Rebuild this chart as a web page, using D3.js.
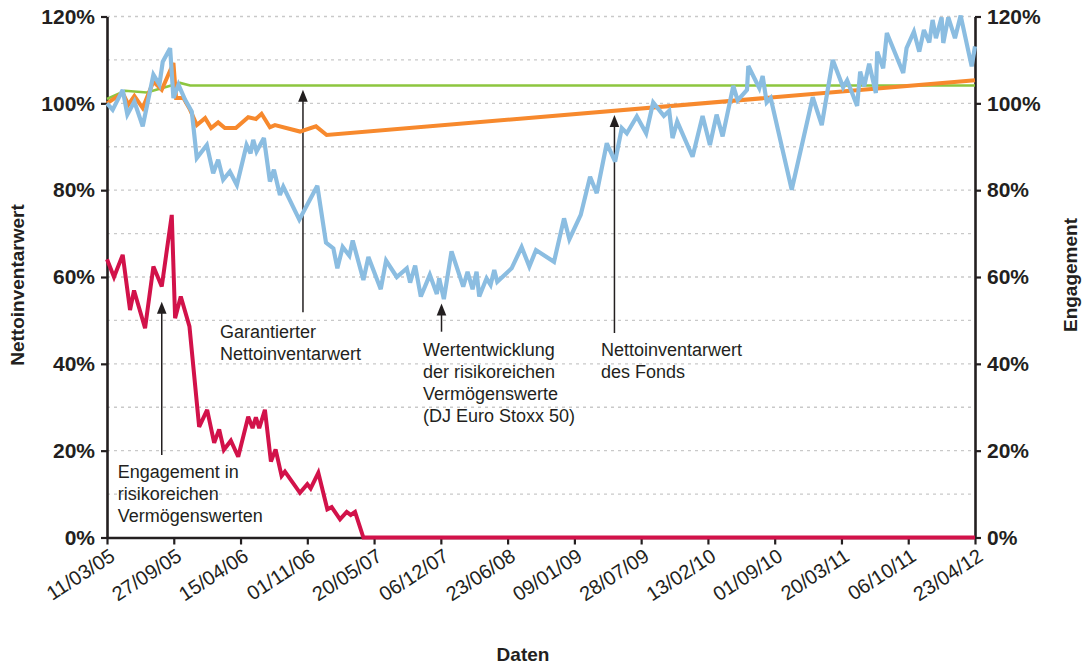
<!DOCTYPE html>
<html><head><meta charset="utf-8">
<script src="https://cdn.jsdelivr.net/npm/d3@7"></script>
<style>
body{margin:0;background:#fff}
svg{display:block}
text{font-family:"Liberation Sans",Arial,sans-serif;fill:#231f20}
</style>
</head><body>
<svg id="chart" width="1085" height="665"></svg>
<script>
// ---------- data ----------
const tickDates = ["11/03/05","27/09/05","15/04/06","01/11/06","20/05/07","06/12/07","23/06/08","09/01/09","28/07/09","13/02/10","01/09/10","20/03/11","06/10/11","23/04/12"];
const yTicks = [0,20,40,60,80,100,120];
const gridValues = [10,20,30,40,50,60,70,80,90,100,110,120];

// Wertentwicklung der risikoreichen Vermögenswerte (DJ Euro Stoxx 50)
const stoxxDates = ["2005-03-11","2005-03-28","2005-04-27","2005-05-11","2005-06-01","2005-06-26","2005-07-28","2005-08-15","2005-08-25","2005-09-16","2005-09-26","2005-10-11","2005-10-31","2005-11-20","2005-12-05","2006-01-04","2006-01-23","2006-02-07","2006-02-22","2006-03-14","2006-04-04","2006-05-03","2006-05-15","2006-05-23","2006-06-02","2006-06-24","2006-07-12","2006-07-24","2006-08-11","2006-08-21","2006-10-08","2006-12-01","2006-12-27","2007-01-18","2007-01-30","2007-02-15","2007-03-07","2007-03-17","2007-04-18","2007-05-03","2007-06-09","2007-06-25","2007-07-27","2007-08-26","2007-09-05","2007-09-20","2007-10-07","2007-11-03","2007-11-24","2007-12-01","2007-12-15","2008-01-07","2008-02-11","2008-02-24","2008-03-10","2008-03-22","2008-03-30","2008-04-21","2008-05-03","2008-05-14","2008-05-23","2008-07-05","2008-08-04","2008-08-27","2008-09-16","2008-11-09","2008-12-09","2008-12-25","2009-01-28","2009-02-25","2009-03-17","2009-04-16","2009-05-11","2009-05-31","2009-06-15","2009-07-15","2009-08-12","2009-09-02","2009-10-04","2009-10-20","2009-10-30","2009-11-13","2009-12-29","2010-01-28","2010-02-19","2010-03-11","2010-03-29","2010-04-30","2010-05-13","2010-06-10","2010-06-14","2010-07-17","2010-07-27","2010-08-08","2010-08-20","2010-10-22","2010-12-24","2011-01-20","2011-02-22","2011-03-25","2011-04-06","2011-05-06","2011-05-15","2011-05-27","2011-06-11","2011-07-01","2011-07-05","2011-07-23","2011-08-03","2011-09-21","2011-10-01","2011-10-23","2011-11-08","2011-11-22","2011-12-08","2011-12-18","2011-12-28","2012-01-14","2012-01-19","2012-02-03","2012-02-23","2012-03-11","2012-04-13","2012-04-23"];
const stoxxValues = [100,98.5,103.1,97.4,100.4,94.7,106.6,104.3,109.6,112.7,101.2,104.3,100.8,98.1,87.4,90.4,83.9,87.0,82.4,84.3,81.2,90.4,88.5,91.6,88.9,92.0,82.0,84.7,78.9,80.8,73.2,81.0,67.9,66.6,62.0,66.9,64.9,68.4,59.3,64.6,57.2,63.8,60.0,62.0,58.7,62.6,55.5,60.5,56.1,59.7,54.9,65.9,57.8,61.2,57.2,61.2,55.5,59.7,58.2,61.6,58.9,62.0,66.9,62.4,66.2,63.5,73.5,68.7,74.3,83.1,79.3,90.8,86.6,94.3,93.1,97.0,93.1,100.2,97.1,98.3,92.0,95.8,87.7,97.1,90.4,97.4,92.4,104.0,100.7,103.1,108.6,103.5,106.3,100.2,101.2,80.1,101.4,95.0,110.0,103.7,105.3,99.4,107.3,103.9,109.1,102.4,111.9,108.1,116.2,107.0,112.7,116.5,111.9,116.9,114.0,119.2,115.0,119.8,113.9,119.8,115.0,120.2,108.5,113.1];

// Nettoinventarwert des Fonds
const navDates = ["2005-03-11","2005-04-27","2005-05-14","2005-06-01","2005-06-26","2005-07-28","2005-08-22","2005-09-26","2005-10-04","2005-10-26","2005-11-15","2005-12-05","2005-12-30","2006-01-17","2006-02-07","2006-02-27","2006-04-01","2006-05-08","2006-05-31","2006-06-17","2006-07-12","2006-07-27","2006-10-10","2006-11-27","2006-12-29","2012-04-23"];
const navValues = [100,102.4,99.7,101.7,98.9,105.0,103.1,109.3,101.2,101.2,98.5,95.0,96.6,94.3,95.6,94.3,94.3,96.8,96.4,97.6,94.5,95.0,93.5,94.7,92.7,105.3];

// Garantierter Nettoinventarwert
const guarDates = ["2005-03-11","2005-05-04","2005-07-08","2005-09-01","2005-10-16","2005-11-15","2012-04-23"];
const guarValues = [101.0,102.9,102.5,103.7,104.7,104.1,104.1];

// Engagement in risikoreichen Vermögenswerten
const expoDates = ["2005-03-11","2005-04-01","2005-04-27","2005-05-19","2005-05-31","2005-07-03","2005-07-28","2005-08-22","2005-09-21","2005-10-01","2005-10-18","2005-11-13","2005-12-12","2006-01-05","2006-01-26","2006-02-10","2006-02-24","2006-03-17","2006-04-08","2006-05-08","2006-05-21","2006-05-31","2006-06-10","2006-06-27","2006-07-15","2006-07-29","2006-08-16","2006-08-26","2006-10-10","2006-11-01","2006-11-11","2006-12-04","2006-12-31","2007-01-13","2007-02-07","2007-02-27","2007-03-11","2007-03-24","2007-04-18","2012-04-23"];
const expoValues = [64.1,60.0,65.1,52.4,56.9,48.2,62.4,57.8,74.3,50.5,55.5,48.6,25.5,29.4,21.8,24.9,20.2,22.3,18.6,27.8,25.2,27.7,25.2,29.4,17.5,20.3,14.2,15.2,10.3,12.3,11.3,14.9,6.5,7.0,4.2,5.9,5.2,5.9,0,0];

// annotations: arrow date, tip value, tail value, text lines
const annDates = ["2006-10-19","2007-12-08","2009-05-09","2005-08-22"];
const annTips = [103.1,53.9,97.3,54.3];
const annTails = [51.9,47.4,47.1,19.0];
const annTexts = [
  ["Garantierter","Nettoinventarwert"],
  ["Wertentwicklung","der risikoreichen","Vermögenswerte","(DJ Euro Stoxx 50)"],
  ["Nettoinventarwert","des Fonds"],
  ["Engagement in","risikoreichen","Vermögenswerten"]
];

// ---------- chart ----------
const ink = "#231f20";
const svg = d3.select("#chart");
const parseISO = d3.timeParse("%Y-%m-%d");
const parseTick = d3.timeParse("%d/%m/%y");
const fmtTick = d3.timeFormat("%d/%m/%y");

const margin = {left:107, right:110, top:16.5, bottom:127.5};
const W = 1085, H = 665;
const x = d3.scaleTime()
  .domain([parseTick(tickDates[0]), parseTick(tickDates[tickDates.length-1])])
  .range([margin.left, W - margin.right]);
const y = d3.scaleLinear().domain([0,120]).range([H - margin.bottom, margin.top]);

// grid
svg.append("g").selectAll("line").data(gridValues).join("line")
  .attr("x1", x.range()[0]).attr("x2", x.range()[1])
  .attr("y1", d => y(d)).attr("y2", d => y(d))
  .attr("stroke", "#c9c9c9").attr("stroke-width", 1.4).attr("stroke-dasharray", "3,4");

function styleAxis(g, fontSize, bold) {
  g.select(".domain").attr("stroke", ink).attr("stroke-width", 2.6);
  g.selectAll(".tick line").attr("stroke", ink).attr("stroke-width", 2.2);
  g.selectAll(".tick text").attr("fill", ink)
    .style("font-size", fontSize + "px").style("font-weight", bold ? "bold" : "normal")
    .style("font-family", '"Liberation Sans", Arial, sans-serif');
}

const fmtPct = d => d + "%";
svg.append("g").attr("transform", `translate(${x.range()[0]},0)`)
  .call(d3.axisLeft(y).tickValues(yTicks).tickFormat(fmtPct).tickSize(6).tickSizeOuter(0).tickPadding(6))
  .call(g => styleAxis(g, 21, true));
svg.append("g").attr("transform", `translate(${x.range()[1]},0)`)
  .call(d3.axisRight(y).tickValues(yTicks).tickFormat(fmtPct).tickSize(6).tickSizeOuter(0).tickPadding(6))
  .call(g => styleAxis(g, 21, true));

const xAxis = svg.append("g").attr("transform", `translate(0,${y(0)})`)
  .call(d3.axisBottom(x).tickValues(tickDates.map(parseTick)).tickFormat(fmtTick).tickSize(7).tickSizeOuter(0))
  .call(g => styleAxis(g, 20, false));
xAxis.selectAll(".tick text")
  .attr("x", 0).attr("y", 0).attr("dy", "0.35em")
  .attr("text-anchor", "end")
  .attr("transform", "translate(5,16) rotate(-33)");

// axis titles
svg.append("text").attr("transform", `translate(24,${(y(0)+y(120))/2 + 8}) rotate(-90)`)
  .attr("text-anchor", "middle").style("font-weight", "bold").style("font-size", "19px")
  .text("Nettoinventarwert");
svg.append("text").attr("transform", `translate(1077,${(y(0)+y(120))/2 - 2}) rotate(-90)`)
  .attr("text-anchor", "middle").style("font-weight", "bold").style("font-size", "19px")
  .text("Engagement");
svg.append("text").attr("x", (x.range()[0]+x.range()[1])/2 - 18).attr("y", 661)
  .attr("text-anchor", "middle").style("font-weight", "bold").style("font-size", "19px")
  .text("Daten");

// annotations (arrows)
const textOffsets = [[-83,26],[-18.5,24],[-13.5,23],[-44,23]];
annDates.forEach((ds, i) => {
  const ax = x(parseISO(ds)), ty = y(annTips[i]), by = y(annTails[i]);
  const g = svg.append("g");
  g.append("line").attr("x1", ax).attr("x2", ax).attr("y1", ty + 8).attr("y2", by)
    .attr("stroke", ink).attr("stroke-width", 1.5);
  g.append("path").attr("d", `M${ax},${ty} L${ax-4.8},${ty+12} L${ax+4.8},${ty+12} Z`).attr("fill", ink);
  const t = g.append("text").style("font-size", "18px");
  annTexts[i].forEach((line, k) => {
    t.append("tspan").attr("x", ax + textOffsets[i][0]).attr("y", by + textOffsets[i][1] + k*22).text(line);
  });
});

// series
const mk = (dates, vals) => dates.map((d, i) => ({date: parseISO(d), v: vals[i]}));
const line = d3.line().x(d => x(d.date)).y(d => y(d.v));
const series = [
  {data: mk(guarDates, guarValues), color: "#8dc63f", w: 2.6},
  {data: mk(navDates, navValues), color: "#f7892d", w: 4},
  {data: mk(stoxxDates, stoxxValues), color: "#8bbde1", w: 4.2},
  {data: mk(expoDates, expoValues), color: "#d2124a", w: 4}
];
svg.append("g").selectAll("path").data(series).join("path")
  .attr("d", s => line(s.data)).attr("fill", "none")
  .attr("stroke", s => s.color).attr("stroke-width", s => s.w)
  .attr("stroke-linejoin", "miter").attr("stroke-miterlimit", 3);
</script>
</body></html>
